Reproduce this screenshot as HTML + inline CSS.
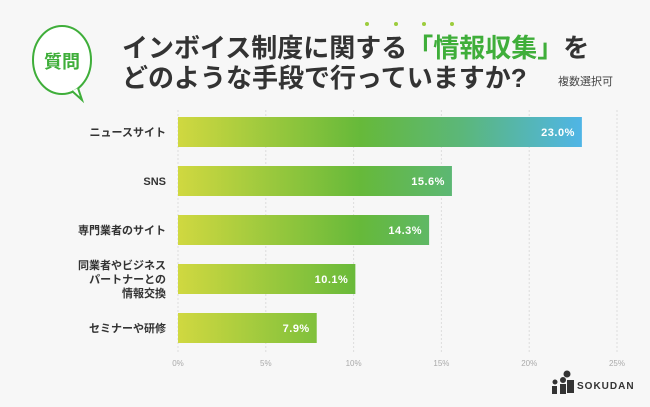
<!DOCTYPE html>
<html><head><meta charset="utf-8"><style>
body{margin:0;background:#f7f7f7;}
svg{display:block;font-family:"Liberation Sans","Noto Sans CJK JP",sans-serif;}
</style></head><body>
<svg width="650" height="407" viewBox="0 0 650 407">
<defs>
<linearGradient id="g" gradientUnits="userSpaceOnUse" x1="178" y1="0" x2="584" y2="0">
<stop offset="0" stop-color="#d0d840"/><stop offset="0.45" stop-color="#66b93a"/><stop offset="0.7" stop-color="#5bb77a"/><stop offset="1" stop-color="#4fb5e8"/>
</linearGradient>
</defs>
<rect width="650" height="407" fill="#f7f7f7"/>
<g>
<ellipse cx="62" cy="60" rx="29" ry="34" fill="#fff" stroke="#3fae3a" stroke-width="2"/>
<path d="M72 91 L82 100 L78 88" fill="#fff" stroke="#3fae3a" stroke-width="2"/>
<text x="62" y="68" text-anchor="middle" font-size="18" font-weight="bold" fill="#3fae3a">質問</text>
</g>
<g font-weight="bold" fill="#333">
<text x="122" y="57" font-size="26">インボイス制度に関する<tspan fill="#3fae3a">「情報収集」</tspan>を</text>
<g fill="#9ccc3c"><circle cx="367" cy="24" r="2"/><circle cx="396" cy="24" r="2"/><circle cx="424" cy="24" r="2"/><circle cx="452" cy="24" r="2"/></g>
<text x="122" y="87" font-size="26">どのような手段で行っていますか?</text>
<text x="558" y="85" font-size="11" font-weight="normal" fill="#444">複数選択可</text>
</g>
<g id="grid"></g>
<g id="bars"></g>
<g>
<g fill="#333"><circle cx="555" cy="382" r="2.5"/><rect x="552" y="386" width="5" height="8"/><circle cx="563" cy="380" r="3"/><rect x="560" y="384" width="6" height="10"/><circle cx="567" cy="374" r="3.5"/><rect x="567" y="380" width="7" height="13"/></g>
<text x="577" y="389" font-size="10" font-weight="bold" fill="#333" letter-spacing="1">SOKUDAN</text>
</g>
</svg>
<script>
const categories=["ニュースサイト","SNS","専門業者のサイト","同業者やビジネス|パートナーとの|情報交換","セミナーや研修"];
const values=[23.0,15.6,14.3,10.1,7.9];
const ticks=[0,5,10,15,20,25];
const tickLabels=["0%","5%","10%","15%","20%","25%"];
const NS="http://www.w3.org/2000/svg";
const x=v=>178+v*(439/25);
const yc=i=>132+i*49;
function mk(t,a,p){const e=document.createElementNS(NS,t);for(const k in a)e.setAttribute(k,a[k]);p.appendChild(e);return e;}
const grid=document.getElementById('grid'),bars=document.getElementById('bars');
ticks.forEach((t,i)=>{
 const l=mk('line',{x1:x(t),x2:x(t),y1:110,y2:352,stroke:'#ddd','stroke-dasharray':'2,2'},grid);
 
 
 const tx=mk('text',{x:x(t),y:366,'text-anchor':'middle','font-size':'8',fill:'#aaa'},grid);
 tx.textContent=tickLabels[i];
 
 
});
values.forEach((v,i)=>{
 const r=mk('rect',{x:x(0),y:yc(i)-15,width:x(v)-x(0),height:30,fill:'url(#g)'},bars);
 
 
 const vt=mk('text',{x:x(v)-7,y:yc(i)+4,'text-anchor':'end','font-size':'11','font-weight':'bold',fill:'#fff','letter-spacing':'0.5'},bars);
 vt.textContent=v.toFixed(1)+'%';
 
 
 const lines=categories[i].split('|');
 lines.forEach((s,j)=>{
  const ct=mk('text',{x:166,y:yc(i)+4+(j-(lines.length-1)/2)*14,'text-anchor':'end','font-size':'11','font-weight':'bold',fill:'#333'},bars);
  ct.textContent=s;
  
  
 });
});
</script>
</body></html>
